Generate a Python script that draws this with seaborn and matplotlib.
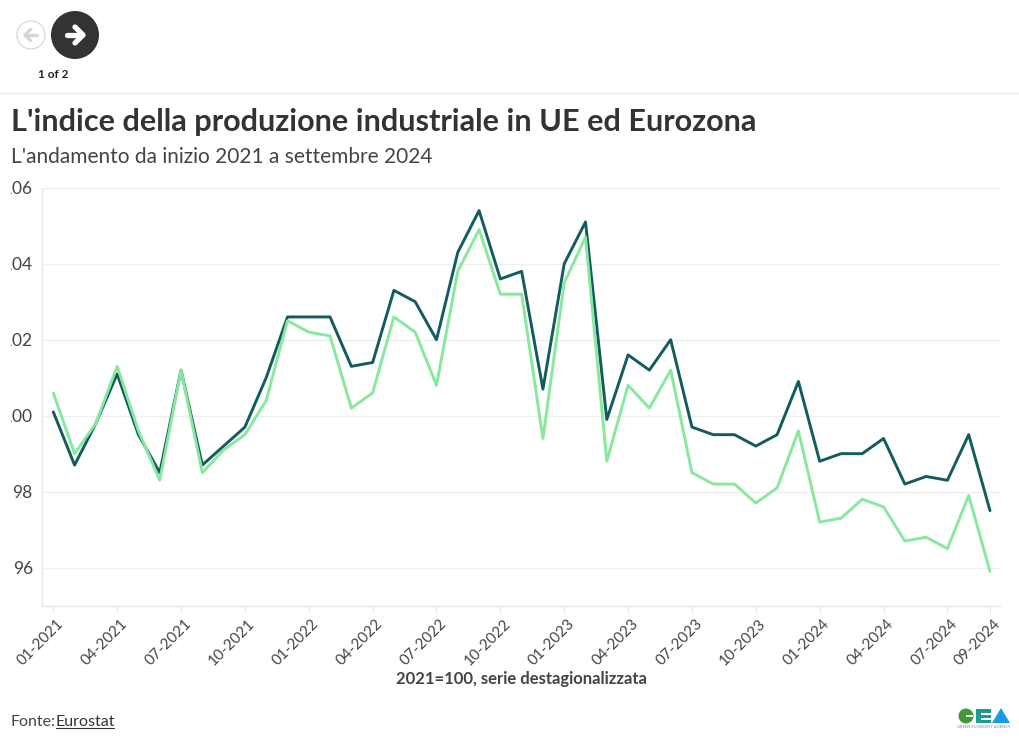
import matplotlib
matplotlib.use("Agg")
import matplotlib.pyplot as plt
import seaborn as sns
import pandas as pd
from matplotlib.patches import Circle, Polygon, Rectangle
from matplotlib.transforms import Bbox, ScaledTranslation

months = [f"{m:02d}-{y}" for y in (2021, 2022, 2023, 2024) for m in range(1, 13)][:45]
eurozona = [100.1, 98.7, 99.8, 101.1, 99.5, 98.5, 101.2, 98.7, 99.2, 99.7, 101.0, 102.6,
            102.6, 102.6, 101.3, 101.4, 103.3, 103.0, 102.0, 104.3, 105.4, 103.6, 103.8, 100.7,
            104.0, 105.1, 99.9, 101.6, 101.2, 102.0, 99.7, 99.5, 99.5, 99.2, 99.5, 100.9,
            98.8, 99.0, 99.0, 99.4, 98.2, 98.4, 98.3, 99.5, 97.5]
ue = [100.6, 99.0, 99.8, 101.3, 99.6, 98.3, 101.2, 98.5, 99.1, 99.5, 100.4, 102.5,
      102.2, 102.1, 100.2, 100.6, 102.6, 102.2, 100.8, 103.8, 104.9, 103.2, 103.2, 99.4,
      103.5, 104.7, 98.8, 100.8, 100.2, 101.2, 98.5, 98.2, 98.2, 97.7, 98.1, 99.6,
      97.2, 97.3, 97.8, 97.6, 96.7, 96.8, 96.5, 97.9, 95.9]
tick_months = ["01-2021", "04-2021", "07-2021", "10-2021", "01-2022", "04-2022", "07-2022", "10-2022",
               "01-2023", "04-2023", "07-2023", "10-2023", "01-2024", "04-2024", "07-2024", "09-2024"]
y_ticks = [96, 98, 100, 102, 104, 106]

W, H = 1020, 743
sns.set_theme(style="white")
FONT = ["Lato", "DejaVu Sans"]
plt.rcParams["font.family"] = FONT
fig = plt.figure(figsize=(W / 100, H / 100), dpi=100, facecolor="white")

ax = fig.add_axes([42.5 / W, 1 - 605.6 / H, (1000 - 42.5) / W, (605.6 - 187.8) / H])
df = pd.DataFrame({"i": range(len(months)), "Eurozona": eurozona, "UE": ue})
long = df.melt("i", var_name="area", value_name="indice")
sns.lineplot(data=long, x="i", y="indice", hue="area", hue_order=["Eurozona", "UE"],
             palette=["#135c5e", "#88e89e"], linewidth=2.1, legend=False, ax=ax, clip_on=False)
ax.set_xlim(-0.507, 44.47)
ax.set_ylim(95, 106)
ax.set_xlabel("")
ax.set_ylabel("")
ax.yaxis.grid(True, color="#eeeeee", linewidth=0.9)
ax.xaxis.grid(False)
ax.set_axisbelow(True)
for s in ("top", "right"):
    ax.spines[s].set_visible(False)
for s in ("left", "bottom"):
    ax.spines[s].set_color("#e6e6e6")
    ax.spines[s].set_linewidth(0.9)
ax.set_yticks(y_ticks)
ax.set_yticklabels([str(v) for v in y_ticks], fontsize=12.5, color="#444444")
ax.tick_params(axis="y", length=0, pad=7)
ax.set_xticks([months.index(m) for m in tick_months])
ax.set_xticklabels(tick_months, rotation=45, ha="right", rotation_mode="anchor",
                   fontsize=10.9, color="#444444")
ax.tick_params(axis="x", length=5, width=0.8, color="#e6e6e6", pad=3, bottom=True)
shift = ScaledTranslation(3 / 100, 0, fig.dpi_scale_trans)
for lab in ax.get_xticklabels():
    lab.set_transform(lab.get_transform() + shift)
clip = Bbox.from_extents(11, 0, W, H)
for lab in ax.get_yticklabels():
    lab.set_clip_box(clip)
    lab.set_clip_on(True)

ov = fig.add_axes([0, 0, 1, 1], facecolor="none", zorder=5)
ov.set_xlim(0, W)
ov.set_ylim(H, 0)
ov.axis("off")
ov.plot([0, W], [92.5, 92.5], color="#ececec", lw=0.9)
ov.add_patch(Circle((31, 35), 14, fc="white", ec="#d9d9d9", lw=0.9))
ov.plot([25.5, 37], [35, 35], color="#d6d6d6", lw=2.4, solid_capstyle="round")
ov.plot([30.5, 25, 30.5], [29.5, 35, 40.5], color="#d6d6d6", lw=2.4,
        solid_capstyle="round", solid_joinstyle="round")
ov.add_patch(Circle((75, 35), 24, fc="#333333", ec="none"))
ov.plot([67, 82], [35, 35], color="white", lw=3.8, solid_capstyle="round")
ov.plot([75, 83, 75], [27, 35, 43], color="white", lw=3.8,
        solid_capstyle="round", solid_joinstyle="round")
ov.text(53, 74, "1 of 2", ha="center", va="center", fontsize=8.5, fontweight="bold", color="#222222")
ov.text(11, 122, "L'indice della produzione industriale in UE ed Eurozona", ha="left", va="center",
        fontsize=22.05, fontweight="bold", color="#333333")
ov.text(11, 157, "L'andamento da inizio 2021 a settembre 2024", ha="left", va="center",
        fontsize=15.05, color="#444444")
ov.text(521, 679, "2021=100, serie destagionalizzata", ha="center", va="center",
        fontsize=12, fontweight="bold", color="#444444")
ov.text(11, 721.5, "Fonte:", ha="left", va="center", fontsize=11.5, color="#444444")
ov.text(56, 721.5, "Eurostat", ha="left", va="center", fontsize=11.5, color="#333333")
ov.plot([56, 114], [727.5, 727.5], color="#333333", lw=0.8)
# GEA logo
ov.add_patch(Circle((966, 716), 7.5, fc="#3f9a34", ec="none"))
ov.add_patch(Rectangle((966, 715), 7, 1.5, fc="white", ec="none"))
ov.add_patch(Rectangle((976, 709), 15, 14, fc="#1f9a93", ec="none"))
ov.add_patch(Rectangle((981, 713), 10, 1.5, fc="white", ec="none"))
ov.add_patch(Rectangle((981, 718), 10, 1.5, fc="white", ec="none"))
ov.add_patch(Polygon([(992, 723), (1001, 708), (1010, 723)], fc="#1c9be0", ec="none"))
ov.text(984, 727.5, "GREEN ECONOMY AGENCY", ha="center", va="center", fontsize=3, color="#888888")

fig.savefig("out.png", dpi=100, facecolor="white")
